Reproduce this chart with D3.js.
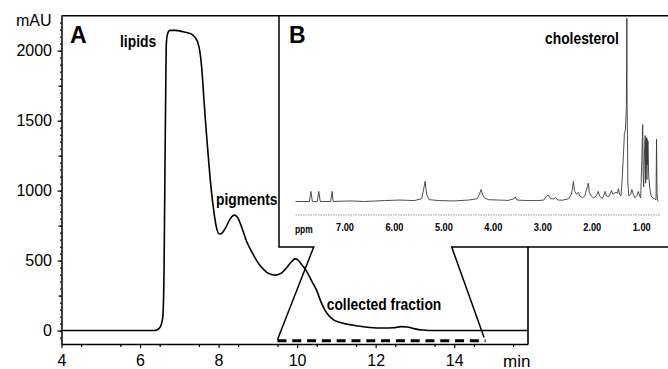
<!DOCTYPE html>
<html>
<head>
<meta charset="utf-8">
<script src="https://cdn.jsdelivr.net/npm/d3@7"></script>
<style>
  body { margin: 0; background: #fff; }
  svg { display: block; }
  text { font-family: "Liberation Sans", Arial, sans-serif; fill: #000; }
  .nar { font-weight: bold; }
</style>
</head>
<body>
<svg id="chart" width="668" height="369"></svg>
<script>
// HPLC trace: [time (min), absorbance (mAU)]
const hplc = [
  [4.0, 0], [6.0, 0], [6.35, 0], [6.45, 8], [6.52, 28], [6.58, 100], [6.61, 400],
  [6.63, 1000], [6.65, 1600], [6.67, 2050], [6.70, 2120], [6.76, 2145], [6.9, 2145],
  [7.1, 2135], [7.3, 2120], [7.4, 2095], [7.47, 2060], [7.52, 2000], [7.57, 1880],
  [7.63, 1640], [7.69, 1410], [7.76, 1170], [7.82, 990], [7.88, 850], [7.94, 745],
  [8.02, 690], [8.1, 700], [8.2, 745], [8.3, 800], [8.4, 825], [8.48, 810], [8.6, 730],
  [8.71, 640], [8.85, 560], [8.97, 500], [9.1, 450], [9.22, 418], [9.35, 400], [9.45, 396],
  [9.6, 410], [9.72, 445], [9.85, 490], [9.95, 512], [10.02, 505], [10.12, 470],
  [10.24, 425], [10.38, 350], [10.5, 285], [10.6, 210], [10.7, 150], [10.8, 110],
  [10.92, 78], [11.1, 58], [11.26, 46], [11.5, 35], [11.85, 22], [12.2, 18], [12.45, 20],
  [12.65, 28], [12.8, 26], [13.0, 12], [13.2, 4], [13.5, 0], [15.88, 0]
];
const timeTicks = [4, 6, 8, 10, 12, 14];
const mauTicks = [0, 500, 1000, 1500, 2000];
const fraction = [9.5, 14.8];   // collected window (min)

// 1H NMR of the collected fraction: [ppm, relative intensity]
const nmr = [
  [8.00, 0], [7.72, 0], [7.69, 5.5], [7.66, 0], [7.56, 0], [7.53, 5.5], [7.50, 0],
  [7.29, 0], [7.26, 5.5], [7.24, 0], [6.9, 0.3], [6.6, 0], [6.2, 0.5], [5.9, 0.8],
  [5.6, 0.5], [5.45, 1.5], [5.40, 8], [5.38, 11], [5.35, 4], [5.30, 1], [5.1, 0.5],
  [4.8, 0.3], [4.5, 0.8], [4.33, 1.5], [4.28, 4], [4.25, 6.5], [4.22, 4], [4.18, 2],
  [4.1, 1], [3.9, 0.8], [3.7, 0.6], [3.58, 1.5], [3.56, 2.5], [3.52, 0.8], [3.3, 0.5],
  [3.1, 0.5], [2.98, 0.8], [2.92, 3], [2.89, 3.5], [2.84, 1.5], [2.78, 1.5], [2.74, 2.2],
  [2.70, 0.8], [2.6, 0.7], [2.48, 1.5], [2.42, 4], [2.39, 9], [2.38, 11], [2.36, 6],
  [2.32, 4], [2.28, 5], [2.25, 3], [2.2, 2], [2.15, 3], [2.10, 8], [2.08, 10], [2.06, 5],
  [2.02, 3], [1.98, 2], [1.94, 2.5], [1.90, 4], [1.88, 5.5], [1.85, 3], [1.80, 1.5],
  [1.77, 3], [1.74, 5.5], [1.71, 3], [1.67, 2.5], [1.64, 4], [1.61, 6], [1.58, 4],
  [1.55, 4.5], [1.52, 5], [1.49, 4.5], [1.47, 7], [1.45, 4], [1.42, 3], [1.40, 10],
  [1.37, 25], [1.35, 37], [1.33, 39], [1.32, 45], [1.31, 52], [1.30, 100], [1.295, 52],
  [1.29, 40], [1.28, 10], [1.26, 3], [1.22, 4], [1.20, 6.5], [1.17, 4], [1.14, 2],
  [1.10, 3], [1.07, 5.5], [1.04, 3], [1.02, 2], [1.00, 20], [0.98, 42], [0.97, 15],
  [0.96, 8], [0.94, 30], [0.93, 36], [0.92, 10], [0.915, 34], [0.91, 20], [0.90, 35],
  [0.895, 12], [0.89, 34], [0.88, 20], [0.875, 33], [0.87, 28], [0.86, 15], [0.84, 8],
  [0.81, 3], [0.78, 2], [0.74, 1.5], [0.71, 1], [0.70, 34], [0.69, 5], [0.68, 0.5],
  [0.66, 0]
];
const ppmTicks = [7, 6, 5, 4, 3, 2, 1];

const W = 668;
const svg = d3.select('#chart');

// condensed bold labels (no narrow face installed, so squeeze horizontally)
const SQ = 0.84;
function narrow(px, py, size, txt, anchor) {
  return svg.append('text')
    .attr('class', 'nar')
    .attr('transform', `translate(${px},${py}) scale(${SQ},1)`)
    .attr('font-size', size)
    .attr('text-anchor', anchor || 'start')
    .text(txt);
}

// ---- panel A: chromatogram ----
const m = { l: 61.5, r: 528, t: 15.7, b: 344 };
const x = d3.scaleLinear().domain([4, 15.88]).range([m.l, m.r]);
const y = d3.scaleLinear().domain([-96, 2250]).range([m.b, m.t]);

// frame (top line runs on across the inset)
svg.append('path')
  .attr('d', `M${m.l},${m.t}H${W}M${m.r},${m.t}V${m.b}`)
  .attr('fill', 'none').attr('stroke', '#000').attr('stroke-width', 1.6);

// minor ticks
svg.append('g').attr('transform', `translate(${m.l},0)`)
  .call(d3.axisLeft(y).tickValues(d3.range(-50, 2250, 50)).tickSize(1.5).tickFormat(''))
  .call(g => g.select('.domain').remove());
svg.append('g').attr('transform', `translate(${m.l},0)`)
  .call(d3.axisLeft(y).tickValues(d3.range(250, 2250, 500)).tickSize(3).tickFormat(''))
  .call(g => g.select('.domain').remove());
svg.append('g').attr('transform', `translate(0,${m.b})`)
  .call(d3.axisBottom(x).tickValues(d3.range(4.5, 15.6, 1)).tickSize(3).tickFormat(''))
  .call(g => g.select('.domain').remove());

const yAxis = svg.append('g').attr('transform', `translate(${m.l},0)`)
  .call(d3.axisLeft(y).tickValues(mauTicks).tickSize(4).tickSizeOuter(0).tickPadding(5.5)
    .tickFormat(d3.format('d')));
const xAxis = svg.append('g').attr('transform', `translate(0,${m.b})`)
  .call(d3.axisBottom(x).tickValues(timeTicks).tickSize(4).tickSizeOuter(0).tickPadding(7));
[yAxis, xAxis].forEach(g => {
  g.selectAll('path, line').attr('stroke', '#000').attr('stroke-width', 1.5);
  g.selectAll('text').attr('font-size', 16).attr('font-family', '"Liberation Sans", Arial, sans-serif').attr('fill', '#000');
});
svg.selectAll('.tick line').attr('stroke', '#000').attr('stroke-width', 1.2);

svg.append('text').attr('x', m.l - 10).attr('y', 26).attr('text-anchor', 'end')
  .attr('font-size', 16).text('mAU');
svg.append('text').attr('x', 503).attr('y', 366.5).attr('font-size', 17).text('min');

svg.append('path').datum(hplc)
  .attr('fill', 'none').attr('stroke', '#000').attr('stroke-width', 1.6)
  .attr('stroke-linejoin', 'round')
  .attr('d', d3.line().x(d => x(d[0])).y(d => y(d[1])).curve(d3.curveMonotoneX));

// collected fraction marker
svg.append('line')
  .attr('x1', x(fraction[0])).attr('x2', x(fraction[1]))
  .attr('y1', y(-72)).attr('y2', y(-72))
  .attr('stroke', '#000').attr('stroke-width', 3).attr('stroke-dasharray', '9,5.8');

svg.append('text').attr('x', 70).attr('y', 42.7).attr('font-size', 23).attr('font-weight', 'bold').text('A');
narrow(120, 47, 16.5, 'lipids');
narrow(216, 205, 16.5, 'pigments');

// ---- panel B: NMR inset ----
const inset = { l: 279, t: 15.7, b: 247, gapL: 313.7, gapR: 451.7 };
svg.append('rect')
  .attr('x', inset.l).attr('y', inset.t).attr('width', W - inset.l + 2).attr('height', inset.b - inset.t)
  .attr('fill', '#fff');
svg.append('path')
  .attr('d', `M${W},${inset.t}H${inset.l}V${inset.b}H${inset.gapL}L${x(fraction[0])},${y(-66)}` +
             `M${W},${inset.b}H${inset.gapR}L${x(fraction[1]) - 1.5},${y(-50)}`)
  .attr('fill', 'none').attr('stroke', '#000').attr('stroke-width', 1.5);

const nx = d3.scaleLinear().domain([7, 1]).range([345, 641.7]);
const ny = d3.scaleLinear().domain([0, 100]).range([201.5, 18.3]);

svg.append('line')
  .attr('x1', nx(8)).attr('x2', nx(0.64)).attr('y1', 215).attr('y2', 215)
  .attr('stroke', '#9a9a9a').attr('stroke-width', 1.2).attr('stroke-dasharray', '1.5,1');

svg.append('path').datum(nmr)
  .attr('fill', 'none').attr('stroke', '#3a3a3a').attr('stroke-width', 0.9)
  .attr('d', d3.line().x(d => nx(d[0])).y(d => ny(d[1])));

const fmt = d3.format('.2f');
ppmTicks.forEach(v => narrow(nx(v), 231, 11, fmt(v), 'middle'));
narrow(295, 233, 10, 'ppm');

svg.append('text').attr('x', 289).attr('y', 42.7).attr('font-size', 23).attr('font-weight', 'bold').text('B');
narrow(545, 44.3, 16.5, 'cholesterol');
narrow(326.7, 310, 16.5, 'collected fraction');
</script>
</body>
</html>
